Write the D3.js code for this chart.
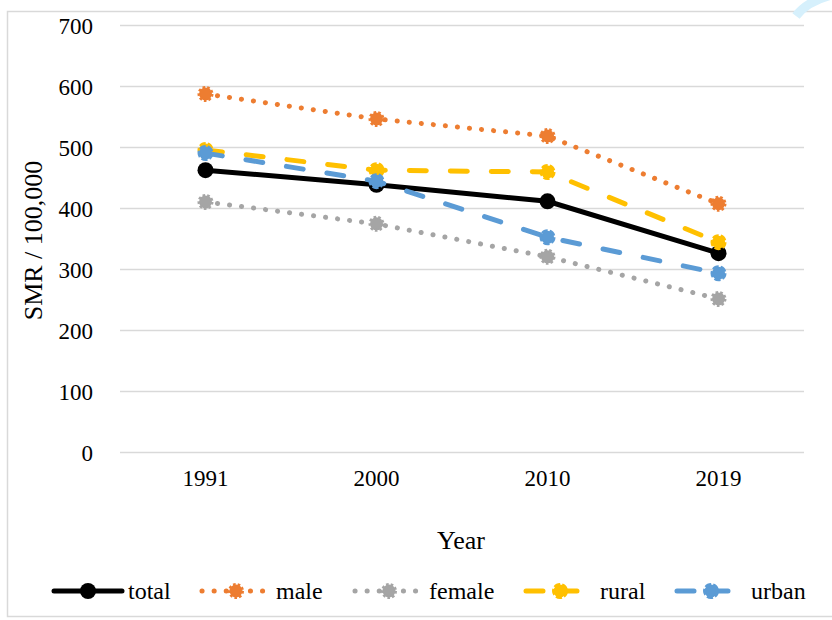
<!DOCTYPE html>
<html>
<head>
<meta charset="utf-8">
<script src="https://cdn.jsdelivr.net/npm/d3@7"></script>
<style>
  body { margin: 0; background: #fff; }
  svg text { font-family: "Liberation Serif", "Tinos", "Times New Roman", "DejaVu Serif", serif; fill: #000; }
</style>
</head>
<body>
<svg id="chart"></svg>
<script>
const years = ['1991', '2000', '2010', '2019'];
const yTicks = [0, 100, 200, 300, 400, 500, 600, 700];
const seriesNames = ['total', 'male', 'female', 'rural', 'urban'];
const total = [462, 438, 411, 326];
const male = [587, 546, 518, 407];
const female = [410, 374, 320, 251];
const rural = [495, 462, 459, 344];
const urban = [490, 444, 352, 293];

const colors = { total: '#000000', male: '#ED7D31', female: '#A5A5A5', rural: '#FFC000', urban: '#5B9BD5' };
const styles = {
    total: { dash: null, width: 5, marker: null },
    male: { dash: '0.1 12', width: 5, marker: '2.5 2' },
    female: { dash: '0.1 12', width: 5, marker: '2.5 2' },
    rural: { dash: '17 24', width: 5, marker: '6 2' },
    urban: { dash: '17 24', width: 5, marker: '6 2' }
};
const values = { total, male, female, rural, urban };
const serif = '"Liberation Serif", "Tinos", "Times New Roman", "DejaVu Serif", serif';

const width = 832, height = 620;
const margin = { top: 25, right: 28, bottom: 168, left: 120 };

const svg = d3.select('#chart').attr('width', width).attr('height', height);

svg.append('rect')
    .attr('x', 7.5).attr('y', 11.5)
    .attr('width', 840).attr('height', 605)
    .attr('fill', '#fff').attr('stroke', '#d9d9d9').attr('stroke-width', 1.5);

// decorative arc at page corner
svg.append('path')
    .attr('d', 'M796,16 Q808,0 836,-6')
    .attr('fill', 'none').attr('stroke', '#d6f0fc').attr('stroke-width', 9);

const chart = svg.append('g').attr('transform', `translate(${margin.left},${margin.top})`);
const innerW = width - margin.left - margin.right;
const innerH = height - margin.top - margin.bottom;

const x = d3.scaleBand().domain(years).range([0, innerW]);
const y = d3.scaleLinear().domain([0, 700]).range([innerH, 0]);

const yAxis = d3.axisLeft(y).tickValues(yTicks).tickSize(-innerW).tickPadding(27);
const yg = chart.append('g').call(yAxis).attr('font-family', serif);
yg.select('.domain').remove();
yg.selectAll('.tick line').attr('stroke', '#d9d9d9').attr('stroke-width', 1.3);
yg.selectAll('.tick text').style('font-size', '23px').attr('dy', '0.35em');

const xAxis = d3.axisBottom(x).tickSize(0).tickPadding(18);
const xg = chart.append('g').attr('transform', `translate(0,${innerH})`).call(xAxis).attr('font-family', serif);
xg.select('.domain').remove();
xg.selectAll('.tick text').style('font-size', '23px');

svg.append('text')
    .attr('x', margin.left + innerW / 2 - 1).attr('y', 549)
    .attr('text-anchor', 'middle').style('font-size', '26px')
    .text('Year');

svg.append('text')
    .attr('transform', `translate(42,${margin.top + innerH / 2 + 2}) rotate(-90)`)
    .attr('text-anchor', 'middle').style('font-size', '26px')
    .text('SMR / 100,000');

const line = d3.line()
    .x((d, i) => x(years[i]) + x.bandwidth() / 2)
    .y(d => y(d));

function drawMarker(g, name, cx, cy, r) {
    const st = styles[name];
    g.append('circle')
        .attr('cx', cx).attr('cy', cy).attr('r', r)
        .attr('fill', colors[name])
        .attr('stroke', colors[name])
        .attr('stroke-width', st.marker ? 3 : 0)
        .attr('stroke-dasharray', st.marker);
}

seriesNames.forEach(name => {
    const st = styles[name];
    const g = chart.append('g');
    g.append('path')
        .datum(values[name])
        .attr('d', line)
        .attr('fill', 'none')
        .attr('stroke', colors[name])
        .attr('stroke-width', st.width)
        .attr('stroke-linecap', 'round')
        .attr('stroke-dasharray', st.dash);
    values[name].forEach((v, i) => {
        drawMarker(g, name, x(years[i]) + x.bandwidth() / 2, y(v), st.marker ? 6.5 : 8);
    });
});

// legend
const legendX = [52, 200, 353, 524, 675];
const legend = svg.append('g').attr('transform', 'translate(0,591)');
seriesNames.forEach((name, i) => {
    const st = styles[name];
    const g = legend.append('g').attr('transform', `translate(${legendX[i]},0)`);
    g.append('line')
        .attr('x1', 2).attr('x2', 70).attr('y1', 0).attr('y2', 0)
        .attr('stroke', colors[name]).attr('stroke-width', st.width)
        .attr('stroke-linecap', 'round')
        .attr('stroke-dasharray', name === 'rural' || name === 'urban' ? '17 17' : st.dash);
    drawMarker(g, name, 36, 0, st.marker ? 6.5 : 8);
    g.append('text')
        .attr('x', 76).attr('y', 0).attr('dy', '0.35em')
        .style('font-size', '24px')
        .text(name);
});
</script>
</body>
</html>
